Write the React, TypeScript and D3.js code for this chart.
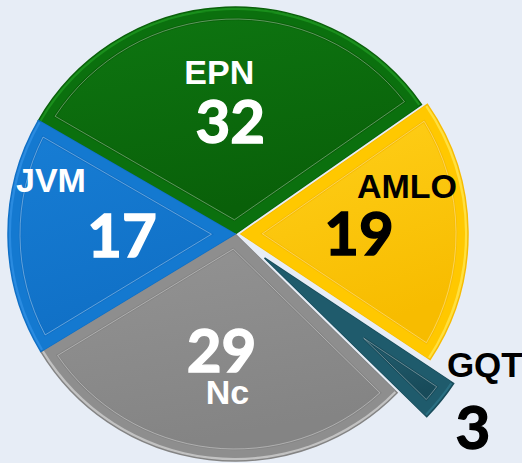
import * as d3 from "d3";

const names = ["EPN", "AMLO", "GQT", "Nc", "JVM"];
const values = [32, 19, 3, 29, 17];
const colors = ["#0b700e", "#ffc800", "#1f5b6c", "#8e8e8e", "#1479d0"];
const edgeColors = ["#1a8f1c", "#ffe040", "#2a6f82", "#c2c2c2", "#2a8be0"];
const innerTop = ["#0e7611", "#ffd01a", "#235f70", "#939393", "#177dd4"];
const innerBottom = ["#096009", "#f7bc00", "#184b5a", "#848484", "#1070c6"];
const textColors = ["#ffffff", "#000000", "#000000", "#ffffff", "#ffffff"];
const explode = [0, 6, 38, 0, 0];
// name label offset relative to the number label
const nameDx = [-11, 48, 12, 6, -71];
const nameDy = [-49, -47, -62, 42, -55];
const numberRadius = [113, 118, 268, 117, 113];

const W = 522;
const H = 463;
const cx = 235;
const cy = 234;
const R = 227;
const inset = 12;

const pt = (a: number, r: number) => [r * Math.sin(a), -r * Math.cos(a)];

function insetPath(a0: number, a1: number, r: number, d: number) {
  const half = (a1 - a0) / 2;
  const mid = (a0 + a1) / 2;
  const apex = pt(mid, d / Math.sin(half));
  const rr = r - d;
  const delta = Math.asin(d / rr);
  const p0 = pt(a0 + delta, rr);
  const p1 = pt(a1 - delta, rr);
  const large = a1 - a0 - 2 * delta > Math.PI ? 1 : 0;
  return `M${apex[0]},${apex[1]}L${p0[0]},${p0[1]}A${rr},${rr} 0 ${large} 1 ${p1[0]},${p1[1]}Z`;
}

export default function App() {
  const pie = d3
    .pie<number>()
    .sort(null)
    .startAngle(-Math.PI / 3)
    .endAngle(-Math.PI / 3 + 2 * Math.PI)(values);
  const arc = d3.arc<d3.PieArcDatum<number>>().innerRadius(0).outerRadius(R);
  const arcIn = d3.arc<d3.PieArcDatum<number>>().innerRadius(0).outerRadius(R - 3);

  return (
    <svg width={W} height={H} style={{ position: "absolute", left: 0, top: 0 }}>
      <defs>
        {colors.map((c, i) => (
          <linearGradient key={i} id={`g${i}`} x1="0" y1="0" x2="0.3" y2="1">
            <stop offset="0%" stopColor={innerTop[i]} />
            <stop offset="100%" stopColor={innerBottom[i]} />
          </linearGradient>
        ))}
      </defs>
      <rect width={W} height={H} fill="#e7edf6" />
      {pie.map((d, i) => {
        const mid = (d.startAngle + d.endAngle) / 2;
        const off = pt(mid, explode[i]);
        return (
          <g key={names[i]} transform={`translate(${cx + off[0]},${cy + off[1]})`}>
            <path d={arc(d) || ""} fill={edgeColors[i]} stroke={innerBottom[i]} strokeWidth={1.5} />
            <path d={arcIn(d) || ""} fill={colors[i]} />
            <path
              d={insetPath(d.startAngle, d.endAngle, R, inset)}
              fill={`url(#g${i})`}
              stroke={innerBottom[i]}
              strokeWidth={2.5}
            />
            <path
              d={insetPath(d.startAngle, d.endAngle, R, inset)}
              fill="none"
              stroke="#ffffff"
              strokeOpacity={0.35}
              strokeWidth={1}
            />
          </g>
        );
      })}
      {pie.map((d, i) => {
        const mid = (d.startAngle + d.endAngle) / 2;
        const off = pt(mid, explode[i]);
        const num = pt(mid, numberRadius[i]);
        const x = cx + off[0] + num[0];
        const y = cy + off[1] + num[1];
        const fill = textColors[i];
        return (
          <g key={`l${i}`} fill={fill} textAnchor="middle">
            <text
              x={x}
              y={y + 22}
              fontFamily="Lato, 'DejaVu Sans', sans-serif"
              fontWeight="bold"
              fontSize={60}
              stroke={fill}
              strokeWidth={1.4}
            >
              {values[i]}
            </text>
            <text
              x={x + nameDx[i]}
              y={y + nameDy[i] + 12}
              fontFamily="'Liberation Sans', Arial, sans-serif"
              fontWeight="bold"
              fontSize={i === 2 ? 35 : 34}
            >
              {names[i]}
            </text>
          </g>
        );
      })}
    </svg>
  );
}
